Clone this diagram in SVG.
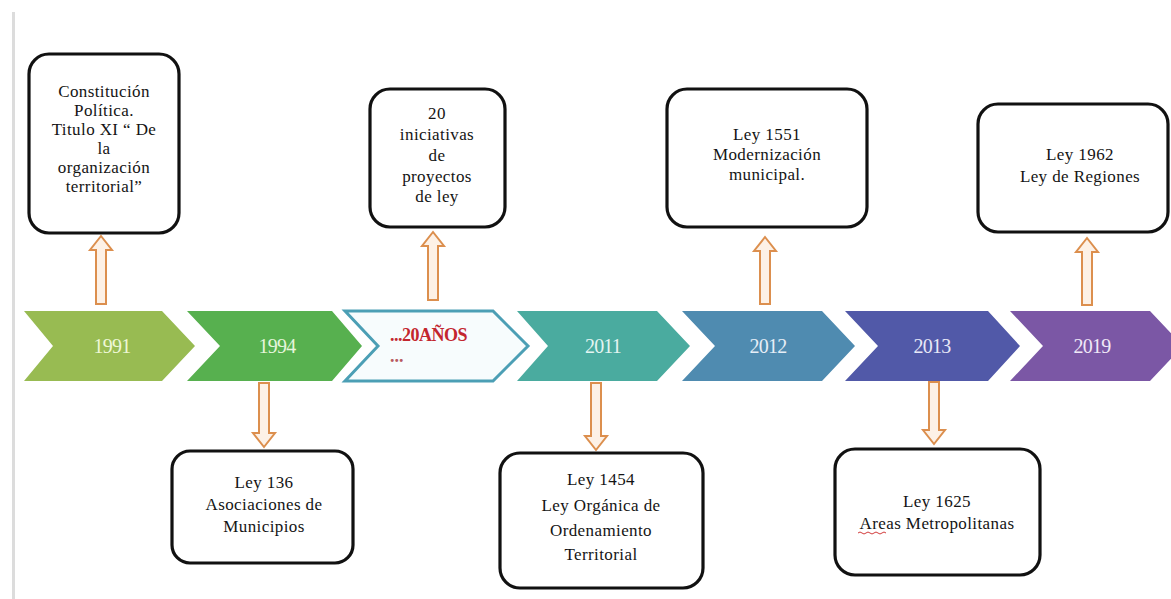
<svg xmlns="http://www.w3.org/2000/svg" width="1171" height="599" viewBox="0 0 1171 599">
<style>
.box{fill:#fff;stroke:#111;stroke-width:3.2}
.bt{font-family:"Liberation Serif","Times New Roman",serif;font-size:17px;fill:#141414;text-anchor:middle;letter-spacing:0.4px}
.yr{font-family:"Liberation Serif","Times New Roman",serif;font-size:20px;text-anchor:middle;letter-spacing:-0.8px}
.arr{fill:#fdf1e6;stroke:#dc8f4e;stroke-width:2;stroke-linejoin:miter}
</style>
<rect width="1171" height="599" fill="#fff"/>
<line x1="13.5" y1="12" x2="13.5" y2="599" stroke="#dcdcdc" stroke-width="3"/>

<g id="timeline">
<g id="c1991"><polygon points="24,311 162,311 195,346 162,381 24,381 53,346" fill="#98bb52"/><text class="yr" x="112" y="353" fill="#eef7d6">1991</text></g>
<g id="c1994"><polygon points="187,311 332,311 362,346 332,381 187,381 220,346" fill="#57b04f"/><text class="yr" x="277" y="353" fill="#e6f5dc">1994</text></g>
<g id="c20anos"><polygon points="345,311 493,311 528,346 493,381 345,381 378,346" fill="#f7fcfd" stroke="#4c9fb5" stroke-width="3"/><text x="390" y="341" font-family="Liberation Serif,serif" font-size="18" font-weight="bold" fill="#c3262e" letter-spacing="-0.5">...20AÑOS</text><text x="390" y="362" font-family="Liberation Serif,serif" font-size="18" font-weight="bold" fill="#b85a60">...</text></g>
<g id="c2011"><polygon points="517,311 657,311 690,346 657,381 517,381 548,346" fill="#4aab9f"/><text class="yr" x="603" y="353" fill="#e4f5f2">2011</text></g>
<g id="c2012"><polygon points="682,311 822,311 855,346 822,381 682,381 715,346" fill="#4f8bb0"/><text class="yr" x="768" y="353" fill="#e6eef7">2012</text></g>
<g id="c2013"><polygon points="845,311 988,311 1020,346 988,381 845,381 878,346" fill="#5159a8"/><text class="yr" x="932" y="353" fill="#e8e8f7">2013</text></g>
<g id="c2019"><polygon points="1010,311 1150,311 1183,346 1150,381 1010,381 1043,346" fill="#7b57a5"/><text class="yr" x="1092" y="353" fill="#f0e8f7">2019</text></g>
</g>

<g id="connectors">
<polygon class="arr" points="96,304 96,250 90,250 101,236 112,250 106,250 106,304"/>
<polygon class="arr" points="428,300 428,246 422,246 433,232 444,246 438,246 438,300"/>
<polygon class="arr" points="760,304 760,251 754,251 765,237 776,251 770,251 770,304"/>
<polygon class="arr" points="1082,305 1082,252 1076,252 1087,238 1098,252 1092,252 1092,305"/>
<polygon class="arr" points="259,383 259,433 253,433 264,447 275,433 269,433 269,383"/>
<polygon class="arr" points="591,383 591,436 585,436 596,450 607,436 601,436 601,383"/>
<polygon class="arr" points="929,382 929,430 923,430 934,444 945,430 939,430 939,382"/>
</g>

<g id="n-constitucion">
<rect class="box" x="29" y="54" width="150" height="179" rx="20"/>
<text class="bt"><tspan x="104" y="97">Constitución</tspan><tspan x="104" y="116">Política.</tspan><tspan x="104" y="135">Titulo XI “ De</tspan><tspan x="104" y="154">la</tspan><tspan x="104" y="173">organización</tspan><tspan x="104" y="192">territorial”</tspan></text>
</g>
<g id="n-iniciativas">
<rect class="box" x="370" y="89" width="135" height="138" rx="20"/>
<text class="bt"><tspan x="437" y="119">20</tspan><tspan x="437" y="140">iniciativas</tspan><tspan x="437" y="161">de</tspan><tspan x="437" y="182">proyectos</tspan><tspan x="437" y="202">de ley</tspan></text>
</g>
<g id="n-ley1551">
<rect class="box" x="667" y="89" width="200" height="138" rx="20"/>
<text class="bt"><tspan x="767" y="140">Ley 1551</tspan><tspan x="767" y="160">Modernización</tspan><tspan x="767" y="180">municipal.</tspan></text>
</g>
<g id="n-ley1962">
<rect class="box" x="978" y="104" width="190" height="128" rx="20"/>
<text class="bt"><tspan x="1080" y="160">Ley 1962</tspan><tspan x="1080" y="182">Ley de Regiones</tspan></text>
</g>
<g id="n-ley136">
<rect class="box" x="172" y="451" width="181" height="112" rx="18"/>
<text class="bt"><tspan x="264" y="488">Ley 136</tspan><tspan x="264" y="510">Asociaciones de</tspan><tspan x="264" y="532">Municipios</tspan></text>
</g>
<g id="n-ley1454">
<rect class="box" x="500" y="453" width="203" height="135" rx="20"/>
<text class="bt"><tspan x="601" y="485">Ley 1454</tspan><tspan x="601" y="511">Ley Orgánica de</tspan><tspan x="601" y="536">Ordenamiento</tspan><tspan x="601" y="560">Territorial</tspan></text>
</g>
<g id="n-ley1625">
<rect class="box" x="835" y="449" width="205" height="126" rx="20"/>
<text class="bt"><tspan x="937" y="507">Ley 1625</tspan><tspan x="937" y="529">Areas Metropolitanas</tspan></text>
<path d="M858,533 q2,-2 4,0 t4,0 t4,0 t4,0 t4,0 t4,0 t4,0" fill="none" stroke="#d23b3b" stroke-width="1"/>
</g>
</svg>
